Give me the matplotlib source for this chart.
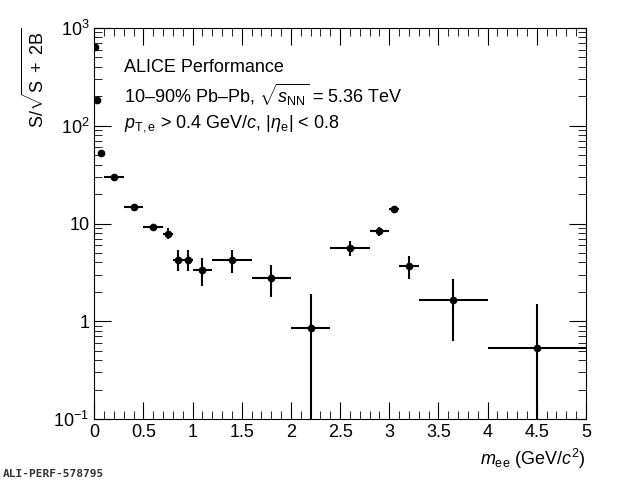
import matplotlib
matplotlib.use('Agg')
import matplotlib.pyplot as plt
import numpy as np
from matplotlib.ticker import FixedLocator, LogLocator, NullFormatter, MultipleLocator

plt.rcParams['font.family'] = ['Liberation Sans', 'DejaVu Sans']
plt.rcParams['mathtext.fontset'] = 'custom'
plt.rcParams['mathtext.rm'] = 'Liberation Sans'
plt.rcParams['mathtext.it'] = 'Liberation Sans:italic'

# bin centres, half widths, values, errors (down, up)
x = [0.01, 0.03, 0.07, 0.2, 0.4, 0.6, 0.75, 0.85, 0.95, 1.1, 1.4, 1.8, 2.2, 2.6, 2.9, 3.05, 3.2, 3.65, 4.5]
xerr = [0.0, 0.0, 0.0, 0.1, 0.1, 0.1, 0.05, 0.05, 0.05, 0.1, 0.2, 0.2, 0.2, 0.2, 0.1, 0.05, 0.1, 0.35, 0.5]
y = [640, 183, 52.6, 29.9, 14.9, 9.2, 7.9, 4.24, 4.2, 3.34, 4.24, 2.8, 0.86, 5.57, 8.4, 14.1, 3.67, 1.65, 0.53]
y_lo = [600, 170, 50, 28.5, 14.0, 8.5, 6.9, 3.3, 3.3, 2.3, 3.1, 1.76, 0.05, 4.6, 7.5, 13.3, 2.7, 0.63, 0.05]
y_hi = [680, 196, 55, 31.3, 15.8, 9.9, 8.9, 5.3, 5.3, 4.4, 5.3, 3.8, 1.9, 6.6, 9.3, 14.9, 4.6, 2.7, 1.5]

yerr = [np.array(y) - np.array(y_lo), np.array(y_hi) - np.array(y)]

fig = plt.figure(figsize=(6.2, 4.83), dpi=100)
ax = fig.add_axes([0.152, 0.1325, 0.793, 0.8095])
ax.errorbar(x, y, xerr=xerr, yerr=yerr, fmt='o', color='black', ms=4.5, elinewidth=1.5, capsize=0)
ax.set_yscale('log')
ax.set_xlim(0, 5)
ax.set_ylim(0.1, 1000)
ax.xaxis.set_major_locator(MultipleLocator(0.5))
ax.xaxis.set_minor_locator(MultipleLocator(0.1))
ax.yaxis.set_major_locator(FixedLocator([0.1, 1, 10, 100, 1000]))
ax.yaxis.set_minor_locator(LogLocator(subs=np.arange(2, 10)))
ax.yaxis.set_minor_formatter(NullFormatter())
ax.set_yticklabels(['$10^{-1}$', '1', '10', '$10^{2}$', '$10^{3}$'])
ax.set_xticks([0, 0.5, 1, 1.5, 2, 2.5, 3, 3.5, 4, 4.5, 5])
ax.set_xticklabels(['0', '0.5', '1', '1.5', '2', '2.5', '3', '3.5', '4', '4.5', '5'])
ax.tick_params(which='both', direction='in', top=True, right=True, labelsize=13)
ax.tick_params(which='major', length=12)
ax.tick_params(which='minor', length=6)
ax.set_xlabel(r'$m_{\rm ee}$ (GeV/$c^{2}$)', fontsize=13, loc='right')
ax.set_ylabel(r'S/$\sqrt{\rm S\ +\ 2B}$', fontsize=13, loc='top')

ax.text(0.06, 0.898, 'ALICE Performance', transform=ax.transAxes, fontsize=13, va='center')
ax.text(0.06, 0.828, r'10–90% Pb–Pb, $\sqrt{s_{\rm NN}}$ = 5.36 TeV', transform=ax.transAxes, fontsize=13, va='center')
ax.text(0.06, 0.755, r'$p_{\rm T,e}$ > 0.4 GeV/$c$, |$\eta_{\rm e}$| < 0.8', transform=ax.transAxes, fontsize=13, va='center')
fig.text(0.005, 0.012, 'ALI-PERF-578795', fontsize=8, family='DejaVu Sans Mono', weight='bold', color='#333333')

fig.savefig('out.png', dpi=100)
